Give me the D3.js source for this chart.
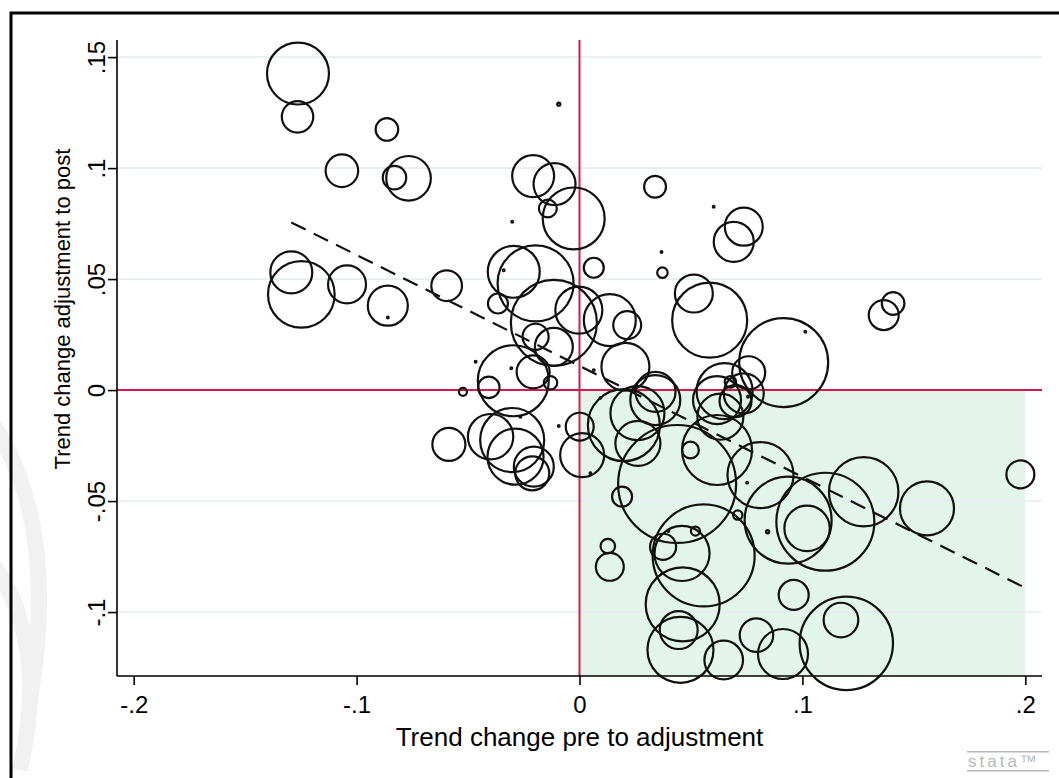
<!DOCTYPE html>
<html>
<head>
<meta charset="utf-8">
<script src="https://cdnjs.cloudflare.com/ajax/libs/d3/7.8.5/d3.min.js"></script>
<style>
  body { margin: 0; background: #fff; }
  svg { display: block; }
  text { font-family: "Liberation Sans", Arial, sans-serif; }
</style>
</head>
<body>
<script>
// bubble data: x = trend change pre, y = trend change post, w = weight (bubble area)
var xVals = [-0.1263, -0.1265, -0.0864, -0.1066, -0.0830, -0.0767, -0.1293, -0.1248, -0.1043, -0.0860,
             -0.0860, -0.0093, -0.0208, -0.0112, -0.0142, -0.0026, -0.0302, 0.0339, 0.0602, 0.0368,
             0.0372, 0.0064, 0.0737, 0.0692, -0.0295, -0.0197, -0.0596, -0.0366, -0.0340, -0.0115,
             -0.0003, 0.0136, 0.0214, -0.0197, -0.0115, 0.0584, 0.0513, 0.0916, -0.0297, -0.0407,
             -0.0208, -0.0130, -0.0523, -0.0466, -0.0306, 0.0064, 0.0206, 0.0341, 0.0759, 0.0677,
             0.1013, -0.0586, -0.0399, -0.0302, -0.0287, -0.0205, -0.0212, -0.0265, -0.0093, 0.0049,
             0.0094, 0.0001, 0.0012, 0.0191, 0.0127, 0.0136, 0.0438, 0.0375, 0.0460, 0.0520,
             0.0557, 0.0463, 0.0445, 0.0453, 0.0199, 0.0260, 0.0262, 0.0340, 0.0617, 0.0632,
             0.0617, 0.0498, 0.0812, 0.0752, 0.0710, 0.0844, 0.0936, 0.1103, 0.1021, 0.1275,
             0.1559, 0.1978, 0.0647, 0.0961, 0.0794, 0.0913, 0.1197, 0.1173, 0.0399, 0.0756,
             0.0700, 0.0737, 0.1407, 0.1365, 0.0651];
var yVals = [0.1426, 0.1231, 0.1174, 0.0988, 0.0957, 0.0954, 0.0530, 0.0431, 0.0476, 0.0380,
             0.0327, 0.1288, 0.0964, 0.0928, 0.0818, 0.0773, 0.0758, 0.0916, 0.0826, 0.0622,
             0.0529, 0.0551, 0.0736, 0.0668, 0.0533, 0.0481, 0.0470, 0.0390, 0.0540, 0.0303,
             0.0360, 0.0315, 0.0293, 0.0240, 0.0195, 0.0315, 0.0435, 0.0124, 0.0042, 0.0012,
             0.0082, 0.0033, -0.0008, 0.0128, 0.0098, 0.0090, 0.0105, -0.0008, 0.0078, 0.0037,
             0.0263, -0.0245, -0.0210, -0.0225, -0.0300, -0.0345, -0.0375, -0.0120, -0.0162, -0.0375,
             -0.0035, -0.0165, -0.0293, -0.0480, -0.0703, -0.0796, -0.0423, -0.0706, -0.0736, -0.0635,
             -0.0745, -0.0965, -0.1081, -0.1170, -0.0158, -0.0104, -0.0240, -0.0045, -0.0045, -0.0120,
             -0.0270, -0.0270, -0.0383, -0.0417, -0.0563, -0.0638, -0.0586, -0.0593, -0.0623, -0.0458,
             -0.0533, -0.0380, -0.1216, -0.0923, -0.1104, -0.1189, -0.1141, -0.1036, -0.0635, -0.0030,
             -0.0050, -0.0015, 0.0390, 0.0338, -0.0005];
var wVals = [38.4, 9.9, 5.1, 10.6, 5.5, 19.9, 17.6, 44.4, 14.4, 16.0,
             0.03, 0.1, 17.6, 17.6, 3.2, 38.4, 0.03, 4.8, 0.03, 0.03,
             1.1, 4.0, 14.4, 16.0, 27.0, 57.8, 9.4, 4.0, 0.03, 74.0,
             22.1, 27.0, 7.8, 6.8, 14.4, 56.3, 14.4, 79.2, 50.4, 4.6,
             10.9, 1.8, 0.64, 0.03, 0.03, 0.03, 23.0, 16.0, 10.9, 1.3,
             0.03, 10.9, 20.6, 41.0, 31.4, 16.0, 11.6, 0.03, 0.03, 0.03,
             0.03, 7.8, 19.4, 4.0, 2.1, 7.8, 139.2, 6.8, 30.3, 0.81,
             104.0, 54.8, 14.4, 43.6, 51.8, 29.2, 20.3, 25.0, 23.0, 21.2,
             49.0, 2.8, 43.6, 0.03, 0.88, 0.1, 75.7, 96.0, 20.6, 48.2,
             29.2, 7.8, 14.9, 9.0, 11.2, 25.0, 87.2, 12.0, 0.03, 0.03,
             10.2, 16.0, 5.1, 9.0, 31.4];

// linear fit line end points
var fitX = [-0.1293, 0.199];
var fitY = [0.0755, -0.0886];

var xTicks = [-0.2, -0.1, 0, 0.1, 0.2];
var xTickLabels = ["-.2", "-.1", "0", ".1", ".2"];
var yTicks = [-0.1, -0.05, 0, 0.05, 0.1, 0.15];
var yTickLabels = ["-.1", "-.05", "0", ".05", ".1", ".15"];

var W = 1059, H = 778;

var x = d3.scaleLinear().domain([-0.2075, 0.2075]).range([117, 1042]);
var y = d3.scaleLinear().domain([-0.1288, 0.1577]).range([676, 40]);
var r = d3.scaleSqrt().domain([0, 100]).range([0, 50]);

var svg = d3.select("body").append("svg")
    .attr("width", W)
    .attr("height", H);

svg.append("rect").attr("width", W).attr("height", H).attr("fill", "#fff");

// faint background watermark on the left
var wm = svg.append("g").attr("fill", "none").attr("stroke", "#f1f1f1").attr("stroke-width", 16);
wm.append("path").attr("d", "M-10,420 Q60,520 30,700");
wm.append("path").attr("d", "M-10,560 Q50,640 20,770");

// window border (top and left)
svg.append("path")
    .attr("d", "M11,778 L11,13 L1059,13")
    .attr("fill", "none")
    .attr("stroke", "#000")
    .attr("stroke-width", 3);

// shaded quadrant: x in [0, .2], y below 0
svg.append("rect")
    .attr("x", x(0))
    .attr("y", y(0))
    .attr("width", x(0.2) - x(0))
    .attr("height", y.range()[0] - y(0))
    .attr("fill", "#e3f4ea");

// gridlines
svg.append("g").selectAll("line")
    .data(yTicks.filter(function(d) { return d !== 0; }))
  .enter().append("line")
    .attr("x1", x.range()[0])
    .attr("x2", x.range()[1])
    .attr("y1", function(d) { return y(d); })
    .attr("y2", function(d) { return y(d); })
    .attr("stroke", "#e6eef0")
    .attr("stroke-width", 1.6);

// reference lines at zero
svg.append("line")
    .attr("x1", x(0)).attr("x2", x(0))
    .attr("y1", y.range()[1]).attr("y2", y.range()[0])
    .attr("stroke", "#d41c4a").attr("stroke-width", 2);
svg.append("line")
    .attr("x1", x.range()[0]).attr("x2", x.range()[1])
    .attr("y1", y(0)).attr("y2", y(0))
    .attr("stroke", "#d41c4a").attr("stroke-width", 2);

// bubbles
var pts = xVals.map(function(d, i) { return {x: d, y: yVals[i], w: wVals[i]}; });
svg.append("g").selectAll("circle")
    .data(pts)
  .enter().append("circle")
    .attr("cx", function(d) { return x(d.x); })
    .attr("cy", function(d) { return y(d.y); })
    .attr("r", function(d) { return r(d.w); })
    .attr("fill", "none")
    .attr("stroke", "#111")
    .attr("stroke-width", 2.2);

// fitted line
svg.append("line")
    .attr("x1", x(fitX[0])).attr("y1", y(fitY[0]))
    .attr("x2", x(fitX[1])).attr("y2", y(fitY[1]))
    .attr("stroke", "#111")
    .attr("stroke-width", 2.2)
    .attr("stroke-dasharray", "16,9");

// axes
var xAxis = svg.append("g")
    .attr("transform", "translate(0," + y.range()[0] + ")")
    .call(d3.axisBottom(x).tickValues(xTicks).tickSize(9).tickPadding(11)
      .tickFormat(function(d, i) { return xTickLabels[i]; }));
xAxis.select(".domain").attr("stroke-width", 1.6).attr("d", "M" + x.range()[0] + ",0H" + x.range()[1]);
xAxis.selectAll(".tick line").attr("stroke-width", 1.6);
xAxis.selectAll("text").attr("font-size", 24).attr("fill", "#000")
    .attr("font-family", "Liberation Sans, Arial, sans-serif");

var yAxis = svg.append("g")
    .attr("transform", "translate(" + x.range()[0] + ",0)")
    .call(d3.axisLeft(y).tickValues(yTicks).tickSize(9).tickPadding(6)
      .tickFormat(function(d, i) { return yTickLabels[i]; }));
yAxis.select(".domain").attr("stroke-width", 1.6).attr("d", "M0," + y.range()[1] + "V" + y.range()[0]);
yAxis.selectAll(".tick line").attr("stroke-width", 1.6);
yAxis.selectAll("text")
    .attr("font-size", 24).attr("fill", "#000")
    .attr("font-family", "Liberation Sans, Arial, sans-serif")
    .attr("x", null).attr("dy", null)
    .attr("text-anchor", "middle")
    .attr("transform", "translate(-12,0) rotate(-90)");

// axis titles
svg.append("text")
    .attr("x", x(0))
    .attr("y", 746)
    .attr("text-anchor", "middle")
    .attr("font-size", 26)
    .text("Trend change pre to adjustment");

svg.append("text")
    .attr("transform", "translate(70," + y(0.0365) + ") rotate(-90)")
    .attr("text-anchor", "middle")
    .attr("font-size", 22)
    .text("Trend change adjustment to post");

// stata logo
var logo = svg.append("g").attr("fill", "#b8b8b8");
logo.append("rect").attr("x", 967).attr("y", 751).attr("width", 82).attr("height", 1.5);
logo.append("rect").attr("x", 967).attr("y", 770).attr("width", 82).attr("height", 1.5);
logo.append("text").attr("x", 968).attr("y", 767)
    .attr("font-size", 17).attr("letter-spacing", 3)
    .attr("font-family", "DejaVu Sans Mono, monospace")
    .text("stata\u2122");
</script>
</body>
</html>
